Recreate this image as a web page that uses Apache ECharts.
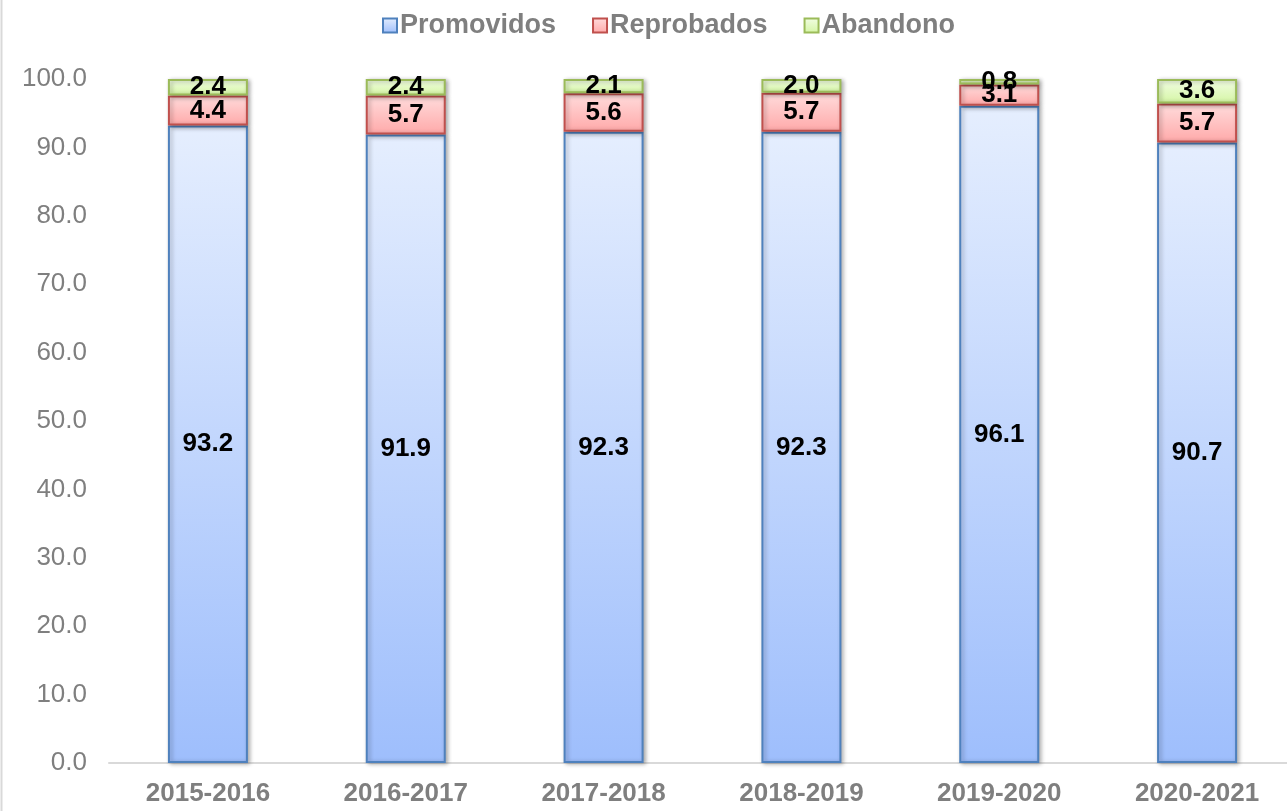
<!DOCTYPE html>
<html>
<head>
<meta charset="utf-8">
<script src="https://cdn.jsdelivr.net/npm/echarts@6/dist/echarts.min.js"></script>
<style>
html,body{margin:0;padding:0;background:#fff;overflow:hidden;}
#main{width:1296px;height:811px;}
</style>
</head>
<body>
<div id="main"></div>
<script>
const categories = ['2015-2016','2016-2017','2017-2018','2018-2019','2019-2020','2020-2021'];
const promovidos = [93.2, 91.9, 92.3, 92.3, 96.1, 90.7];
const reprobados = [4.4, 5.7, 5.6, 5.7, 3.1, 5.7];
const abandono = [2.4, 2.4, 2.1, 2.0, 0.8, 3.6];
const seriesNames = ['Promovidos','Reprobados','Abandono'];

const chart = echarts.init(document.getElementById('main'));
function grad(top, bottom){
  return new echarts.graphic.LinearGradient(0,0,0,1,[{offset:0,color:top},{offset:1,color:bottom}]);
}
const labelStyle = {show:true, position:'inside', color:'#000', fontFamily:'Liberation Sans, Arial, sans-serif', fontWeight:'bold', fontSize:26, formatter: p => p.value.toFixed(1)};
const shadow = {shadowBlur:4, shadowColor:'rgba(0,0,0,0.3)', shadowOffsetX:2, shadowOffsetY:1};
function mk(name, data, top, bottom, border){
  return {
    name, type:'bar', stack:'total', data, barWidth:80,
    itemStyle: Object.assign({color:grad(top,bottom), borderColor:border, borderWidth:2}, shadow),
    label: labelStyle,
    emphasis:{disabled:true}
  };
}
chart.setOption({
  animation:false,
  backgroundColor:'#fff',
  legend:{
    top:7, left:377, itemWidth:14, itemHeight:14, itemGap:36,
    icon:'rect',
    textStyle:{color:'#7f7f7f', fontFamily:'Liberation Sans, Arial, sans-serif', fontWeight:'bold', fontSize:27, padding:[0,0,0,-2]},
    data: seriesNames
  },
  grid:{left:109, right:0, top:79, bottom:48, containLabel:false},
  xAxis:{
    type:'category', data:categories,
    axisLine:{show:true, lineStyle:{color:'#d9d9d9', width:2}},
    axisTick:{show:false},
    axisLabel:{color:'#7f7f7f', fontFamily:'Liberation Sans, Arial, sans-serif', fontWeight:'bold', fontSize:26, margin:18}
  },
  yAxis:{
    type:'value', min:0, max:100, interval:10,
    axisLine:{show:false}, axisTick:{show:false}, splitLine:{show:false},
    axisLabel:{color:'#7f7f7f', fontFamily:'Liberation Sans, Arial, sans-serif', fontSize:26, margin:22, formatter: v => v.toFixed(1)}
  },
  graphic:[{type:'line', shape:{x1:1.5,y1:0,x2:1.5,y2:811}, style:{stroke:'#d9d9d9', lineWidth:2}, silent:true}],
  series:[
    mk('Promovidos', promovidos, '#e5eefe', '#9ebefc', '#4f81bd'),
    mk('Reprobados', reprobados, '#ffdcdc', '#ffa9a9', '#c0504d'),
    mk('Abandono', abandono, '#f2fde4', '#d4f5a3', '#9bbb59')
  ]
});
</script>
</body>
</html>
